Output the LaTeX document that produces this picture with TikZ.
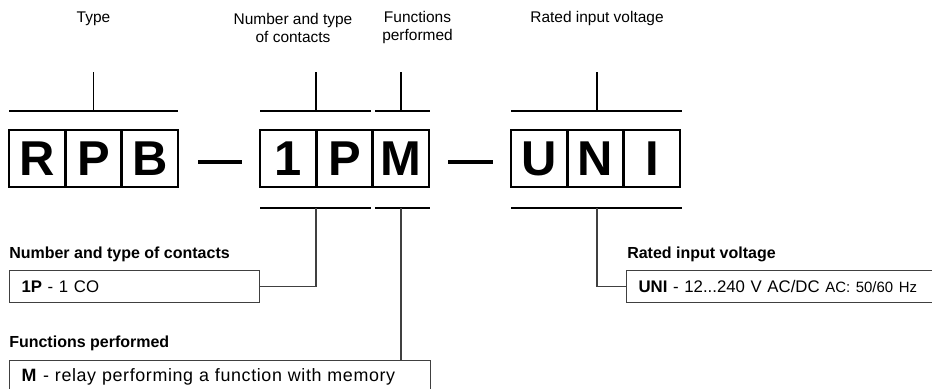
\documentclass[tikz,border=0pt]{standalone}
\usepackage{fontspec}
\setmainfont{Liberation Sans}
\usetikzlibrary{positioning}

\begin{document}
\begin{tikzpicture}[x=0.75pt,y=-0.75pt,
  cell/.style={draw,line width=1.9pt,minimum width=42.25pt,minimum height=42.75pt,
    inner sep=0pt,outer sep=0pt,font=\fontsize{36.7}{40}\selectfont\bfseries},
  toplabel/.style={align=center,inner sep=0pt,font=\fontsize{11.6}{13.5}\selectfont},
  heading/.style={anchor=west,inner sep=0pt,font=\fontsize{12}{14}\selectfont\bfseries},
  codebox/.style={draw=black!75,line width=0.9pt,anchor=north west,minimum height=24pt,
    inner xsep=9pt,inner ysep=0pt,align=left,font=\fontsize{12.6}{14}\selectfont},
  bracket/.style={line width=1pt},
  link/.style={draw=black!75,line width=0.9pt},
  dashbar/.style={line width=3.4pt}]
\useasboundingbox (0,0) rectangle (932,389);
\clip (0,0) rectangle (932,389);
%top labels
\node[toplabel] (lType) at (93.5,19) {Type};
\node[toplabel] (lCont) at (293,28) {Number and type\\of contacts};
\node[toplabel] (lFunc) at (417.5,28) {Functions\\performed};
\node[toplabel] (lVolt) at (597,19) {Rated input voltage};
%code cells
\node[cell] (r1) at (37.2,158.5) {R};
\node[cell,right=0pt of r1] (r2) {P};
\node[cell,right=0pt of r2] (r3) {B};
\node[cell] (c1) at (288.2,158.5) {1};
\node[cell,right=0pt of c1] (c2) {P};
\node[cell,right=0pt of c2] (c3) {M};
\node[cell] (u1) at (539.2,158.5) {U};
\node[cell,right=0pt of u1] (u2) {N};
\node[cell,right=0pt of u2] (u3) {I};
%dashes
\draw[dashbar] (198,162) -- (242,162);
\draw[dashbar] (448,162) -- (493,162);
%top brackets
\draw[bracket] (9,111) -- (178,111) (93.5,111) -- (93.5,72);
\draw[bracket] (260,111) -- (371,111) (316,111) -- (316,72);
\draw[bracket] (375,111) -- (430,111) (401,111) -- (401,72);
\draw[bracket] (511,111) -- (682,111) (597,111) -- (597,72);
%bottom brackets
\draw[bracket,line width=1.2pt] (260,208) -- (371,208) (375,208) -- (430,208) (511,208) -- (682,208);
\coordinate (kCont) at (316,208);
\coordinate (kFunc) at (401,208);
\coordinate (kVolt) at (597,208);
%explanations
\node[heading] (hCont) at (9,254) {Number and type of contacts};
\node[codebox,text width=169.5pt] (bCont) at (9,270) {\textbf{1P} - 1 CO};
\node[heading] (hFunc) at (9,343) {Functions performed};
\node[codebox,text width=297.75pt,font=\fontsize{13.4}{15}\selectfont\addfontfeature{LetterSpace=3.5}] (bFunc) at (9,360) {\textbf{M} - relay performing a function with memory};
\node[heading] (hVolt) at (627,254) {Rated input voltage};
\node[codebox,text width=240pt] (bVolt) at (626,270) {\textbf{UNI} - 12...240 V AC/DC {\fontsize{11.2}{13}\selectfont AC: 50/60 Hz}};
%connectors
\draw[link] (bCont.east) -| (kCont);
\draw[link] (bFunc.north -| kFunc) -- (kFunc);
\draw[link] (bVolt.west) -| (kVolt);
\end{tikzpicture}
\end{document}
